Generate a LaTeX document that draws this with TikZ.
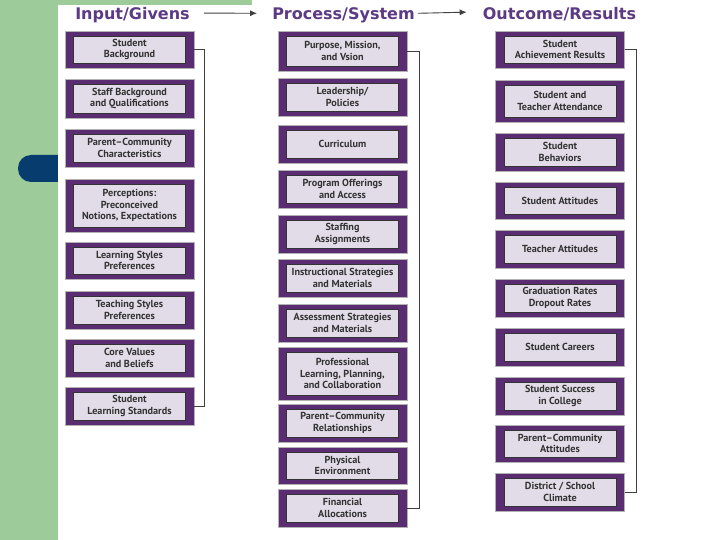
\documentclass[tikz,border=0pt]{standalone}
\usepackage{fontspec}
\setmainfont{PT Sans}
\newfontfamily\titlefont{DejaVu Sans}
\usetikzlibrary{arrows.meta}
\definecolor{bggreen}{HTML}{9DCB99}
\definecolor{navy}{HTML}{063C6E}
\definecolor{boxpurple}{HTML}{5A2C72}
\definecolor{boxfill}{HTML}{E2DBE8}
\definecolor{titlepurple}{HTML}{5C3A84}
\definecolor{txt}{HTML}{333333}
\tikzset{
  outerbox/.style={fill=boxpurple, draw=gray!60, line width=0.5pt, minimum width=129pt, inner sep=0pt},
  innerbox/.style={fill=boxfill, draw=black!80, line width=0.6pt, minimum width=112pt, align=center,
    font=\bfseries\fontsize{10.2}{11.8}\selectfont, text=txt, inner sep=0pt},
  ttl/.style={font=\titlefont\bfseries\fontsize{16}{16}\selectfont, text=titlepurple, inner sep=0pt, anchor=base},
  bracket/.style={draw=black!75, line width=0.9pt},
  flow/.style={draw=black!75, line width=0.9pt, -{Latex[length=7pt,width=6pt]}},
}
\newcommand\cbox[5]{%
  \node[outerbox, minimum height={#4pt-#3pt}] (#1o) at (#2,{(#3+#4)/2}) {};
  \node[innerbox, minimum height={#4pt-#3pt-10pt}] (#1) at (#1o.center) {#5};
}
\begin{document}
\begin{tikzpicture}[x=1pt,y=-1pt]
\useasboundingbox (0,0) rectangle (720,540);
\fill[white] (0,0) rectangle (720,540);
\fill[bggreen] (0,0) rectangle (58,540);
\fill[bggreen] (58,0) rectangle (252,5);
\fill[navy, rounded corners=13pt] (18,155) rectangle (80,182);
\fill[white] (58,5) rectangle (720,540);

% titles
\node[ttl] (T1) at (132.5,20) {Input/Givens};
\node[ttl] (T2) at (343.5,20) {Process/System};
\node[ttl] (T3) at (559.5,20) {Outcome/Results};
\draw[flow] ([shift={(14,-2.5)}]T1.east) -- ([shift={(-15,-2.5)}]T2.west);
\draw[flow] ([shift={(3,-2.5)}]T2.east) -- ([shift={(-16,-2.5)}]T3.west);

% left column
\cbox{L1}{129.5}{31}{68}{Student\\Background}
\cbox{L2}{129.5}{79}{118}{Staff Background\\and Qualifications}
\cbox{L3}{129.5}{129}{167}{Parent–Community\\Characteristics}
\cbox{L4}{129.5}{179}{232}{Perceptions:\\Preconceived\\Notions, Expectations}
\cbox{L5}{129.5}{242}{279}{Learning Styles\\Preferences}
\cbox{L6}{129.5}{291}{329}{Teaching Styles\\Preferences}
\cbox{L7}{129.5}{339}{377}{Core Values\\and Beliefs}
\cbox{L8}{129.5}{387}{425}{Student\\Learning Standards}
\draw[bracket] (L1o.east) -- ++(10,0) |- (L8o.east);

% middle column
\cbox{M1}{342.5}{31}{71}{Purpose, Mission,\\and Vsion}
\cbox{M2}{342.5}{78}{116}{Leadership/\\Policies}
\cbox{M3}{342.5}{125}{163}{Curriculum}
\cbox{M4}{342.5}{170}{208}{Program Offerings\\and Access}
\cbox{M5}{342.5}{215}{253}{Staffing\\Assignments}
\cbox{M6}{342.5}{259}{297}{Instructional Strategies\\and Materials}
\cbox{M7}{342.5}{304}{342}{Assessment Strategies\\and Materials}
\cbox{M8}{342.5}{347}{400}{Professional\\Learning, Planning,\\and Collaboration}
\cbox{M9}{342.5}{404}{442}{Parent–Community\\Relationships}
\cbox{M10}{342.5}{447}{484}{Physical\\Environment}
\cbox{M11}{342.5}{489}{527}{Financial\\Allocations}
\draw[bracket] (M1o.east) -- ++(12,0) |- (M11o.east);

% right column
\cbox{R1}{560}{31}{68}{Student\\Achievement Results}
\cbox{R2}{560}{80}{122}{Student and\\Teacher Attendance}
\cbox{R3}{560}{133}{171}{Student\\Behaviors}
\cbox{R4}{560}{182}{219}{Student Attitudes}
\cbox{R5}{560}{230}{268}{Teacher Attitudes}
\cbox{R6}{560}{279}{317}{Graduation Rates\\Dropout Rates}
\cbox{R7}{560}{328}{366}{Student Careers}
\cbox{R8}{560}{377}{415}{Student Success\\in College}
\cbox{R9}{560}{425}{462}{Parent–Community\\Attitudes}
\cbox{R10}{560}{473}{511}{District / School\\Climate}
\draw[bracket] (R1o.east) -- ++(12,0) |- (R10o.east);
\end{tikzpicture}
\end{document}
